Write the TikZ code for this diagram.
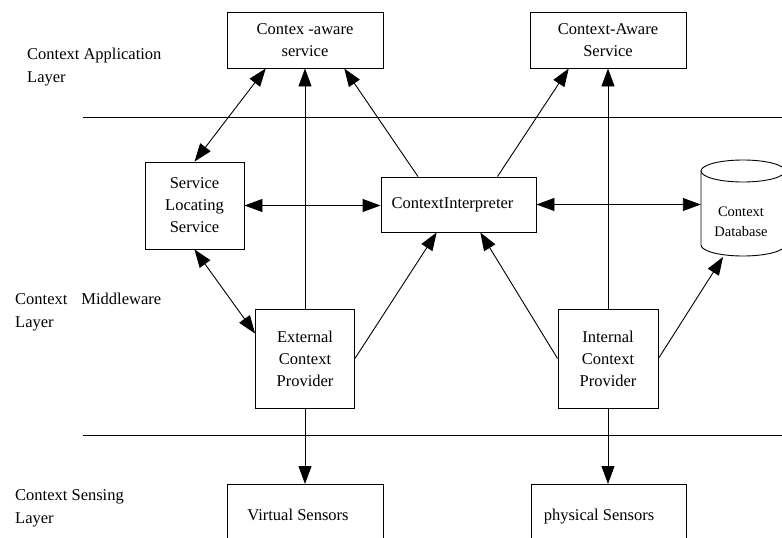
\documentclass[tikz,border=0pt]{standalone}
\usepackage{fontspec}
\setmainfont{Liberation Serif}
\usetikzlibrary{arrows.meta,calc}

\begin{document}
\begin{tikzpicture}[x=1pt,y=-1pt,
  every node/.style={font=\fontsize{16.5}{22}\selectfont},
  box/.style={draw, line width=0.9pt, align=center, inner sep=0pt},
  layerlabel/.style={anchor=base west, align=left, inner sep=0pt,
    font=\fontsize{16.5}{23}\selectfont},
  link/.style={line width=0.9pt},
  tip/.style={link, -{Triangle[length=18pt,width=13pt]}},
  both/.style={link, {Triangle[length=18pt,width=13pt]}-{Triangle[length=18pt,width=13pt]}}]

\useasboundingbox (0,0) rectangle (782,538);
\clip (0,0) rectangle (782,538);

% layer captions (anchored at the baseline of their last line)
\node[layerlabel] (lapp) at (27,82) {Context Application\\Layer};
\node[layerlabel] (lmid) at (15,327) {Context\hspace{14pt}Middleware\\Layer};
\node[layerlabel] (lsen) at (15,523) {Context Sensing\\Layer};

% layer separators
\coordinate (s1a) at (83,117);
\coordinate (s1b) at (782,117);
\coordinate (s2a) at (83,435.5);
\coordinate (s2b) at (782,435.5);
\draw[link] (s1a) -- (s1b);
\draw[link] (s2a) -- (s2b);

% application layer
\node[box, minimum width=156pt, minimum height=56pt] (cas1) at (305,40) {Contex -aware\\service};
\node[box, minimum width=156pt, minimum height=56pt] (cas2) at (608,40) {Context-Aware\\Service};

% middleware layer
\node[box, minimum width=99pt, minimum height=87pt] (sls) at (194.5,205.5) {Service\\Locating\\Service};
\node[box, minimum width=155pt, minimum height=55pt] (ci) at (458.5,204.5) {ContextInterpreter\hspace{12pt}};
\node[box, minimum width=99pt, minimum height=99pt] (ecp) at (305,358.5) {External\\Context\\Provider};
\node[box, minimum width=100pt, minimum height=99pt] (icp) at (608,358.5) {Internal\\Context\\Provider};

% context database (cylinder)
\node[inner sep=0pt, minimum width=84pt, minimum height=96pt] (db) at (743,208) {};
\node[align=center, inner sep=0pt, font=\fontsize{14.5}{20.5}\selectfont] (dbt) at (741,222) {Context\\Database};
\draw[line width=0.9pt] (743,171) ellipse[x radius=42pt, y radius=11pt];
\draw[line width=0.9pt] (701,171) -- (701,245)
  arc[start angle=180, end angle=360, x radius=42pt, y radius=11pt] -- (785,171);

% sensing layer
\node[box, minimum width=156pt, minimum height=100pt, anchor=north] (vs) at (305,484) {};
\node[anchor=base] (vst) at (298,520) {Virtual Sensors};
\node[box, minimum width=155pt, minimum height=100pt, anchor=north] (ps) at (608.5,484) {};
\node[anchor=base] (pst) at (599,520) {physical Sensors};

% connectors
\draw[both] ($(cas1.south west)!0.25!(cas1.south east)$) -- (sls.north);
\draw[tip] (ecp.north) -- (ecp.north |- cas1.south);
\draw[tip] ($(ci.north west)!0.24!(ci.north east)$) -- ($(cas1.south west)!0.75!(cas1.south east)$);
\draw[tip] ($(ci.north west)!0.75!(ci.north east)$) -- ($(cas2.south west)!0.25!(cas2.south east)$);
\draw[tip] (icp.north) -- (icp.north |- cas2.south);

\draw[both] (sls.east) -- (sls.east -| ci.west);
\draw[both] (ci.east) -- (ci.east -| db.west);
\draw[both] (sls.south) -- ($(ecp.north west)!0.25!(ecp.south west)$);

\draw[tip] (ecp.east) -- ($(ci.south west)!0.36!(ci.south east)$);
\draw[tip] (icp.west) -- ($(ci.south west)!0.64!(ci.south east)$);
\draw[tip] (icp.east) -- (723,257);

\draw[tip] (ecp.south) -- (ecp.south |- vs.north);
\draw[tip] (icp.south) -- (icp.south |- ps.north);

\end{tikzpicture}
\end{document}
